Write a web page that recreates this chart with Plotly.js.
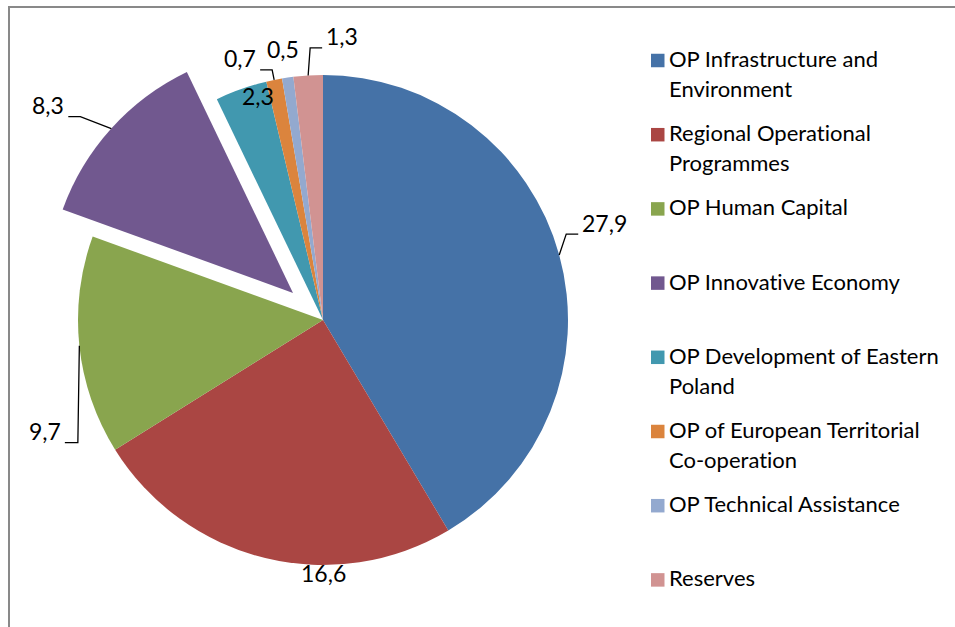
<!DOCTYPE html>
<html><head><meta charset="utf-8">
<script src="https://cdn.plot.ly/plotly-3.0.1.min.js"></script>
<style>html,body{margin:0;padding:0;background:#fff}#chart{width:955px;height:627px}
text{font-variant-ligatures:none !important;font-feature-settings:"liga" 0 !important;}</style>
</head><body><div id="chart"></div>
<script>
// ---- data ----
const categories = [
  "OP Infrastructure and Environment",
  "Regional Operational Programmes",
  "OP Human Capital",
  "OP Innovative Economy",
  "OP Development of Eastern Poland",
  "OP of European Territorial Co-operation",
  "OP Technical Assistance",
  "Reserves"
];
const values = [27.9, 16.6, 9.7, 8.3, 2.3, 0.7, 0.5, 1.3];
const valueLabels = values.map(v => v.toFixed(1).replace('.', ','));

// ---- style ----
const colors = ["#4572A7", "#AA4643", "#89A54E", "#71588F", "#4198AF", "#DB843D", "#93A9CF", "#D19392"];
const pulls = [0, 0, 0, 0.165, 0, 0, 0, 0];
const FONT = "Lato, 'Open Sans', sans-serif";
const W = 955, H = 627;
const CX = 323, CY = 320, R = 245;
// label placement relative to the slice's outer-edge midpoint (pixels)
// leader: [dx, dy, horizontal]; text: [ox, oy] for labels without leader
const labelSpecs = [
  {leader: [7, -21, 12]},
  {text: [58, 15]},
  {leader: [-1.5, 97, -13]},
  {leader: [-31, -12, -12]},
  {text: [17, 7]},
  {leader: [-2, -10, -12]},
  {text: [-4.6, -29]},
  {leader: [2, -27.5, 12]}
];

const px = x => x / W;
const py = y => 1 - y / H;

const maxPull = Math.max(...pulls);
const half = R * (1 + maxPull);

const trace = {
  type: 'pie',
  labels: categories,
  values: values,
  sort: false,
  direction: 'clockwise',
  rotation: 0,
  pull: pulls,
  marker: {colors: colors, line: {width: 0}},
  textinfo: 'none',
  hoverinfo: 'label+value',
  domain: {x: [px(CX - half), px(CX + half)], y: [py(CY + half), py(CY - half)]}
};

const shapes = [];
const annotations = [];

// frame lines
shapes.push({type: 'line', xref: 'paper', yref: 'paper', x0: px(9), x1: px(9), y0: py(6), y1: py(627), line: {color: '#898989', width: 2}});
shapes.push({type: 'line', xref: 'paper', yref: 'paper', x0: px(8), x1: px(955), y0: py(7), y1: py(7), line: {color: '#898989', width: 2}});

// data labels
const total = values.reduce((a, b) => a + b, 0);
let cum = 0;
values.forEach((v, i) => {
  const mid = (cum + v / 2) / total * 2 * Math.PI;
  cum += v;
  const s = Math.sin(mid), c = Math.cos(mid);
  const ox = pulls[i] * R * s, oy = -pulls[i] * R * c;
  const ex = CX + ox + R * s, ey = CY + oy - R * c;
  const spec = labelSpecs[i];
  if (spec.leader) {
    const [dx, dy, h] = spec.leader;
    const mx = ex + dx, my = ey + dy, endx = mx + h;
    shapes.push({type: 'path', xref: 'paper', yref: 'paper',
      path: `M${px(ex)},${py(ey)} L${px(mx)},${py(my)} L${px(endx)},${py(my)}`,
      line: {color: '#000', width: 1.3}});
    annotations.push({xref: 'paper', yref: 'paper', x: px(endx + (h > 0 ? 2 : -2)), y: py(my - 11.5),
      xanchor: h > 0 ? 'left' : 'right', yanchor: 'middle', showarrow: false,
      text: valueLabels[i], font: {family: FONT, size: 23, color: '#000'}});
  } else {
    const [tx, ty] = spec.text;
    annotations.push({xref: 'paper', yref: 'paper', x: px(ex + tx), y: py(ey + ty),
      xanchor: 'center', yanchor: 'middle', showarrow: false,
      text: valueLabels[i], font: {family: FONT, size: 23, color: '#000'}});
  }
});

// legend (manual to reproduce wrapping and even spacing)
function wrap(str, width) {
  const words = str.split(' '), lines = [];
  let cur = '';
  words.forEach(w => {
    if (cur && (cur + ' ' + w).length > width) { lines.push(cur); cur = w; }
    else cur = cur ? cur + ' ' + w : w;
  });
  if (cur) lines.push(cur);
  return lines;
}
const LEG_Y0 = 60.5, LEG_STEP = 74.2, LEG_LINE = 29.7, SQ = 13.5, SQ_X = 651, TXT_X = 667;
categories.forEach((cat, i) => {
  const yc = LEG_Y0 + i * LEG_STEP;
  shapes.push({type: 'rect', xref: 'paper', yref: 'paper',
    x0: px(SQ_X), x1: px(SQ_X + SQ), y0: py(yc - SQ / 2), y1: py(yc + SQ / 2),
    fillcolor: colors[i], line: {width: 0}});
  wrap(cat, 26).forEach((ln, j) => {
    annotations.push({xref: 'paper', yref: 'paper', x: px(TXT_X), y: py(yc + j * LEG_LINE - 2),
      xanchor: 'left', yanchor: 'middle', showarrow: false, text: ln,
      font: {family: FONT, size: 22, color: '#000'}});
  });
});

const layout = {
  width: W, height: H,
  margin: {l: 0, r: 0, t: 0, b: 0},
  showlegend: false,
  paper_bgcolor: '#fff',
  shapes: shapes,
  annotations: annotations
};
Plotly.newPlot('chart', [trace], layout, {displayModeBar: false, staticPlot: true});
</script>
</body></html>
